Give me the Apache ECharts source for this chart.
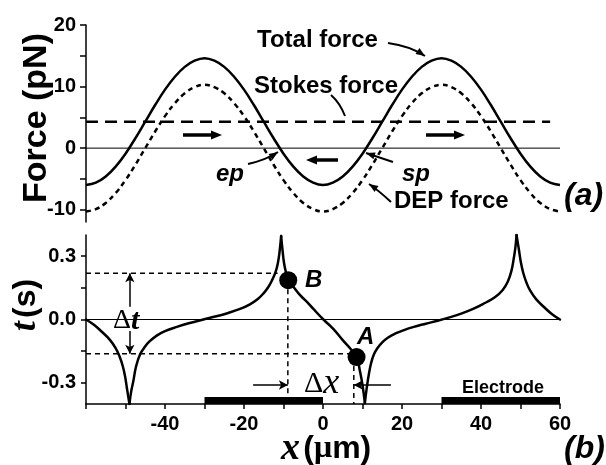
<!DOCTYPE html>
<html><head><meta charset="utf-8">
<script src="https://cdn.jsdelivr.net/npm/echarts@6.0.0/dist/echarts.min.js"></script>
<style>html,body{margin:0;padding:0;background:#fff}#c{width:606px;height:465px}</style>
</head><body><div id="c"></div>
<script>
// ---------- data ----------
const forceX = [-60,-57.5,-55,-52.5,-50,-47.5,-45,-42.5,-40,-37.5,-35,-32.5,-30,-27.5,-25,-22.5,-20,-17.5,-15,-12.5,-10,-7.5,-5,-2.5,
  0,2.5,5,7.5,10,12.5,15,17.5,20,22.5,25,27.5,30,32.5,35,37.5,40,42.5,45,47.5,50,52.5,55,57.5,60];
const totalForce = [-6.0,-5.6,-4.6,-3.0,-0.9,1.6,4.3,7.0,9.5,11.6,13.2,14.2,14.6,14.2,13.2,11.6,9.5,7.0,4.3,1.6,-0.9,-3.0,-4.6,-5.6,
  -6.0,-5.6,-4.6,-3.0,-0.9,1.6,4.3,7.0,9.5,11.6,13.2,14.2,14.6,14.2,13.2,11.6,9.5,7.0,4.3,1.6,-0.9,-3.0,-4.6,-5.6,-6.0];
const depForce = [-10.3,-9.9,-8.9,-7.3,-5.2,-2.7,0,2.7,5.2,7.3,8.9,9.9,10.3,9.9,8.9,7.3,5.2,2.7,0,-2.7,-5.2,-7.3,-8.9,-9.9,
  -10.3,-9.9,-8.9,-7.3,-5.2,-2.7,0,2.7,5.2,7.3,8.9,9.9,10.3,9.9,8.9,7.3,5.2,2.7,0,-2.7,-5.2,-7.3,-8.9,-9.9,-10.3];
const stokesForce = 4.3;
const stokesX = [-60, 57.5];

// t(x): branches separated by the cusps
const timeX = [
  -60,-58,-56,-54,-52.5,-51.5,-50.7,-50.1,-49.6,-49.0,
  -48.6,-48.0,-47.3,-46.3,-45.3,-44.0,-42,-40,-37,-34,-30.3,-27,-24,-21,-18.5,-16.5,-15,-13.8,-12.8,-12,-11.4,-11.0,-10.6,
  -10.2,-9.8,-9.2,-8.8,-7.5,-5.8,-4,-2.5,0.1,2.6,5.1,7,8.5,9.4,10.0,10.6,
  11.1,11.6,12.2,12.9,13.8,15,16.5,18.5,20.5,23,26,29,32,35,38,41,43.5,45.5,46.8,47.7,48.3,48.7,49.0,
  49.6,50.1,50.7,51.5,52.5,54,56,58,60];
const timeT = [
  0,-0.025,-0.058,-0.095,-0.135,-0.175,-0.22,-0.27,-0.33,-0.4,
  -0.345,-0.29,-0.22,-0.165,-0.135,-0.105,-0.075,-0.055,-0.035,-0.018,0,0.015,0.031,0.05,0.072,0.097,0.125,0.155,0.19,0.225,0.27,0.32,0.395,
  0.32,0.26,0.21,0.186,0.155,0.115,0.082,0.051,0,-0.044,-0.1,-0.14,-0.178,-0.249,-0.31,-0.395,
  -0.32,-0.26,-0.205,-0.165,-0.135,-0.108,-0.085,-0.065,-0.05,-0.035,-0.02,-0.006,0.01,0.028,0.05,0.078,0.105,0.14,0.18,0.23,0.29,0.34,0.4,
  0.33,0.27,0.22,0.175,0.135,0.095,0.058,0.025,0];

const pointNames = ['B','A'];
const pointX = [-8.8, 8.5];
const pointT = [0.186, -0.178];
const guideLevelT = [0.219, -0.162];
const guideLevelEndX = [-11.5, 8.5];
const guideDropX = [-8.9, 7.8];
const electrodes = [[-30,0],[30,60]];

const forceTickLabels = [-10,0,10,20];
const forceTicks = [-10,-5,0,5,10,15,20];
const timeTickLabels = [-0.3,0,0.3];
const timeTicks = [-0.3,-0.15,0,0.15,0.3];
const xTickLabels = [-40,-20,0,20,40,60];
const xTicks = [-60,-50,-40,-30,-20,-10,0,10,20,30,40,50,60];

// ---------- chart ----------
const SANS = "'Liberation Sans', Arial, sans-serif";
const SERIF = "'Liberation Serif', 'Times New Roman', serif";
const chart = echarts.init(document.getElementById('c'), null, {renderer:'canvas'});
const pair = (xs, ys) => xs.map((x,i)=>[x, ys[i]]);
const lbl = {fontSize:20, fontWeight:'bold', fontFamily:SANS, color:'#000'};
const axLine = {show:true, onZero:false, lineStyle:{color:'#000', width:1.5}};

// split the t(x) curve at its cusps (local extrema) so each branch is smoothed on its own
const timePts = pair(timeX, timeT);
const branches = [];
let start = 0;
for (let i = 1; i < timePts.length - 1; i++) {
  if ((timeT[i]-timeT[i-1]) * (timeT[i+1]-timeT[i]) < 0) { branches.push(timePts.slice(start, i+1)); start = i; }
}
branches.push(timePts.slice(start));

const option = {
  animation:false,
  backgroundColor:'#fff',
  grid:[
    {left:86, right:46, top:25, height:197, outerBoundsMode:'none'},
    {left:86, right:46, top:235, height:169, outerBoundsMode:'none'}
  ],
  xAxis:[
    {gridIndex:0, type:'value', min:-60, max:60, show:false, axisLine:{onZero:false}},
    {gridIndex:1, type:'value', min:-60, max:60, interval:10, position:'bottom',
     axisLine:axLine, splitLine:{show:false},
     axisTick:{show:true, inside:false, length:5, lineStyle:{width:1.5,color:'#000'}, customValues:xTicks},
     axisLabel:Object.assign({margin:10, customValues:xTickLabels}, lbl)}
  ],
  yAxis:[
    {gridIndex:0, type:'value', min:-12, max:20, position:'left', axisLine:axLine, splitLine:{show:false},
     axisTick:{show:true, length:6, lineStyle:{width:1.5,color:'#000'}, customValues:forceTicks},
     axisLabel:Object.assign({margin:10, customValues:forceTickLabels}, lbl)},
    {gridIndex:1, type:'value', min:-0.4, max:0.4, position:'left', axisLine:axLine, splitLine:{show:false},
     axisTick:{show:true, length:5, lineStyle:{width:1.5,color:'#000'}, customValues:timeTicks},
     axisLabel:Object.assign({margin:10, customValues:timeTickLabels, formatter:v=>Number(v).toFixed(1)}, lbl)}
  ],
  series:[
    {type:'line', xAxisIndex:0, yAxisIndex:0, data:[[-60,0],[60,0]], symbol:'none', silent:true,
     lineStyle:{color:'#000', width:1}},
    {type:'line', xAxisIndex:0, yAxisIndex:0, data:stokesX.map(x=>[x,stokesForce]), symbol:'none',
     lineStyle:{color:'#000', width:2.5, type:[12,7]}},
    {type:'line', xAxisIndex:0, yAxisIndex:0, data:pair(forceX, depForce), symbol:'none', smooth:0.4,
     lineStyle:{color:'#000', width:2.5, type:[5,4]}},
    {type:'line', xAxisIndex:0, yAxisIndex:0, data:pair(forceX, totalForce), symbol:'none', smooth:0.4,
     lineStyle:{color:'#000', width:2.5}},
    // bottom
    {type:'line', xAxisIndex:1, yAxisIndex:1, data:[[-60,0],[60,0]], symbol:'none', silent:true,
     lineStyle:{color:'#000', width:1},
     markArea:{silent:true, itemStyle:{color:'#000', opacity:1},
       data:electrodes.map(([a,b])=>[{coord:[a,-0.4]},{coord:[b,-0.367]}])}},
    ...guideLevelT.map((t,i)=>({type:'line', xAxisIndex:1, yAxisIndex:1, symbol:'none',
       data:[[-60,t],[guideLevelEndX[i],t]], lineStyle:{color:'#000', width:1.5, type:[5,4]}})),
    ...guideDropX.map((x,i)=>({type:'line', xAxisIndex:1, yAxisIndex:1, symbol:'none',
       data:[[x,pointT[i]],[x,-0.4]], lineStyle:{color:'#000', width:1.5, type:[5,4]}})),
    ...branches.map(b=>({type:'line', xAxisIndex:1, yAxisIndex:1, data:b, symbol:'none', smooth:0.45,
       lineStyle:{color:'#000', width:2.5, cap:'round', join:'round'}})),
    {type:'scatter', xAxisIndex:1, yAxisIndex:1, data:pair(pointX, pointT), symbolSize:18,
     itemStyle:{color:'#000', opacity:1}, z:5},
    {type:'line', xAxisIndex:1, yAxisIndex:1, data:[], symbol:'none',
     markLine:{silent:true, symbol:['none','arrow'], symbolSize:[7,9], label:{show:false},
       lineStyle:{color:'#000', width:1.5, type:'solid'},
       data:[
         [{coord:[-48.9,0.06]},{coord:[-48.9,guideLevelT[0]]}],
         [{coord:[-48.9,-0.055]},{coord:[-48.9,guideLevelT[1]]}],
         [{coord:[-17.7,-0.31]},{coord:[guideDropX[0],-0.31]}],
         [{coord:[17.2,-0.31]},{coord:[guideDropX[1],-0.31]}]
       ]}}
  ]
};
chart.setOption(option);

// ---------- annotations ----------
function head(x2,y2,ang,len,wid){
  const bx=x2-len*Math.cos(ang), by=y2-len*Math.sin(ang);
  const s=Math.sin(ang), c=Math.cos(ang);
  return {type:'polygon', shape:{points:[[x2,y2],[bx+wid*s,by-wid*c],[bx-wid*s,by+wid*c]]}, style:{fill:'#000'}};
}
function arrow(x1,y1,x2,y2,w,len,wid){
  const ang=Math.atan2(y2-y1,x2-x1);
  const bx=x2-len*0.8*Math.cos(ang), by=y2-len*0.8*Math.sin(ang);
  return [{type:'line', shape:{x1,y1,x2:bx,y2:by}, style:{stroke:'#000', lineWidth:w}}, head(x2,y2,ang,len,wid)];
}
function pointer(x1,y1,cx,cy,x2,y2,withHead){
  const els=[{type:'bezierCurve', shape:{x1,y1,x2,y2,cpx1:cx,cpy1:cy}, style:{stroke:'#000', lineWidth:2, fill:null}}];
  if(withHead) els.push(head(x2,y2,Math.atan2(y2-cy,x2-cx),9,3.5));
  return els;
}
function txt(x,y,text,size,opts){
  return {type:'text', x, y, style:Object.assign({text, fill:'#000', fontSize:size, fontWeight:'bold',
    fontFamily:SANS, verticalAlign:'middle', align:'left'}, opts||{})};
}
const g = [];
g.push(txt(257,40,'Total force',24));
g.push(txt(254,86,'Stokes force',24));
g.push(txt(394,201,'DEP force',24));
g.push(txt(216,174,'ep',24,{fontStyle:'italic'}));
g.push(txt(402,174,'sp',24,{fontStyle:'italic'}));
g.push(txt(564,196,'(a)',32,{fontStyle:'italic'}));
g.push(txt(564,449,'(b)',32,{fontStyle:'italic'}));
g.push(txt(305,280,pointNames[0],24,{fontStyle:'italic'}));
g.push(txt(357,337,pointNames[1],24,{fontStyle:'italic'}));
g.push(txt(462,388,'Electrode',18));
g.push({type:'text', x:113, y:321, style:{text:'{d|Δ}{v|t}', verticalAlign:'middle', align:'left',
  rich:{d:{fontFamily:SERIF, fontSize:28, fill:'#000'}, v:{fontFamily:SERIF, fontSize:30, fontStyle:'italic', fontWeight:'bold', fill:'#000'}}}});
g.push({type:'text', x:304, y:384, style:{text:'{d|Δ}{v|x}', verticalAlign:'middle', align:'left',
  rich:{d:{fontFamily:SERIF, fontSize:30, fill:'#000'}, v:{fontFamily:SERIF, fontSize:36, fontStyle:'italic', fill:'#000'}}}});
g.push({type:'text', x:281, y:449, style:{text:'{v|x} {p|(}{m|μ}{p|m)}', verticalAlign:'middle', align:'left',
  rich:{v:{fontFamily:SERIF, fontSize:38, fontStyle:'italic', fontWeight:'bold', fill:'#000'},
        p:{fontFamily:SANS, fontSize:32, fontWeight:'bold', fill:'#000'},
        m:{fontFamily:SERIF, fontSize:32, fontWeight:'bold', fill:'#000'}}}});
g.push({type:'text', x:37, y:118, rotation:Math.PI/2, style:{text:'Force (pN)', fill:'#000', fontSize:34,
  fontWeight:'bold', fontFamily:SANS, align:'center', verticalAlign:'middle'}});
g.push({type:'text', x:26, y:305, rotation:Math.PI/2, style:{text:'{v|t} {p|(s)}', align:'center', verticalAlign:'middle',
  rich:{v:{fontFamily:SERIF, fontSize:36, fontStyle:'italic', fontWeight:'bold', fill:'#000'},
        p:{fontFamily:SANS, fontSize:32, fontWeight:'bold', fill:'#000'}}}});
g.push(...pointer(388,43,410,46,425,56,true));
g.push(...pointer(331,95,340,103,345,116,false));
g.push(...pointer(248,164,266,160,278,152,true));
g.push(...pointer(393,162,378,157,366,153,true));
g.push(...pointer(391,202,378,190,369,184,true));
g.push(...arrow(183,135,222,135,3.5,11,4.5));
g.push(...arrow(426,135,465,135,3.5,11,4.5));
g.push(...arrow(338,160,306,160,3.5,11,4.5));
chart.setOption({graphic:{elements:g}});
</script></body></html>
